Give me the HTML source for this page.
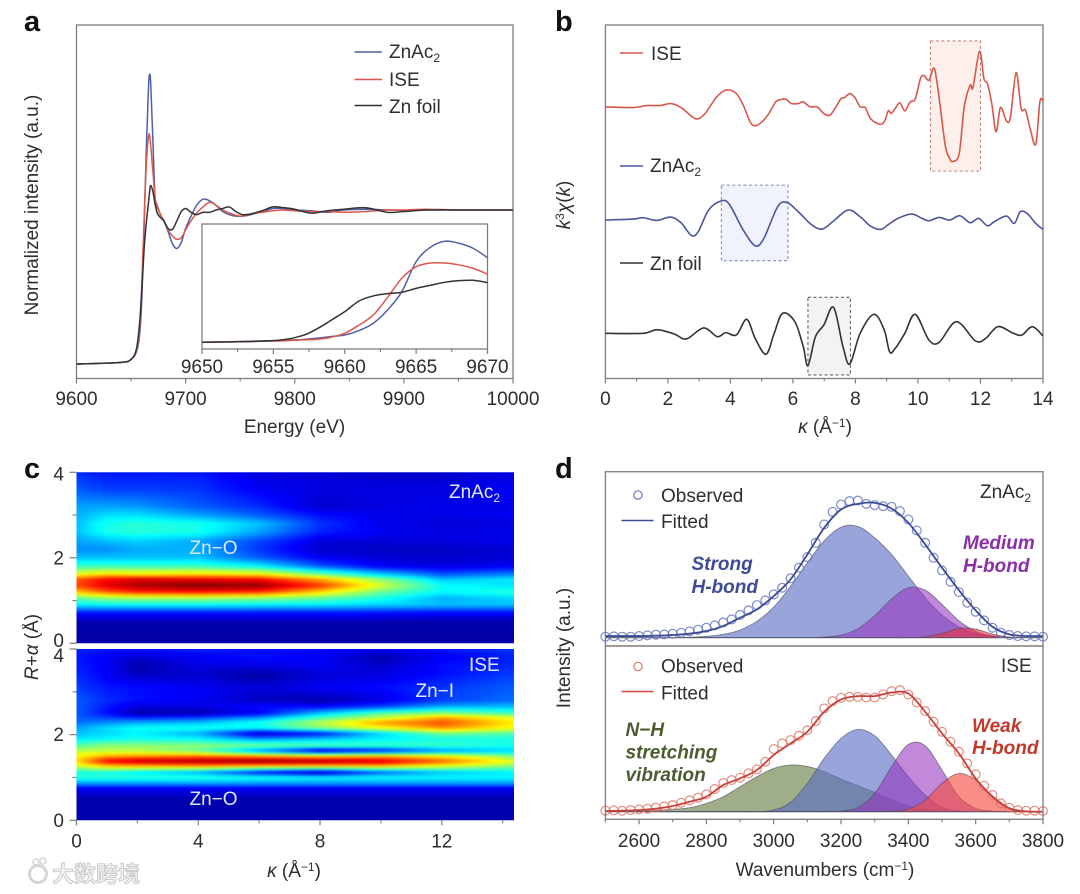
<!DOCTYPE html>
<html lang="en">
<head>
<meta charset="utf-8">
<title>XAS, EXAFS, wavelet and FTIR panels</title>
<style>
html,body{margin:0;padding:0;background:#fff;}
svg{display:block;filter:blur(0.35px);}
text{font-family:"Liberation Sans",sans-serif;fill:#2e2e2e;font-size:19px;}
.panel-letter{font-size:29px;font-weight:bold;fill:#111;}
.light{fill:#dfe7f6;}
.hb{font-weight:bold;font-style:italic;font-size:19px;}
</style>
</head>
<body>
<svg id="figure" xmlns="http://www.w3.org/2000/svg" width="1080" height="894" viewBox="0 0 1080 894">
  <defs>
    <clipPath id="clip-c-top"><rect x="76.5" y="472.3" width="437.5" height="171"/></clipPath>
    <clipPath id="clip-c-bottom"><rect x="76.5" y="649" width="437.5" height="171.3"/></clipPath>
  </defs>

  <g id="panel-a"></g>
  <g id="panel-b"></g>
  <g clip-path="url(#clip-c-top)"><g id="heat-top" style="filter:blur(1px)"></g></g>
  <g clip-path="url(#clip-c-bottom)"><g id="heat-bottom" style="filter:blur(1px)"></g></g>
  <g id="panel-c"></g>
  <g id="panel-d"></g>

  <!-- panel letters -->
  <text class="panel-letter" x="24" y="31">a</text>
  <text class="panel-letter" x="555" y="31">b</text>
  <text class="panel-letter" x="24" y="478">c</text>
  <text class="panel-letter" x="555" y="478">d</text>

  <!-- panel a text -->
  <text x="294.5" y="433" text-anchor="middle">Energy (eV)</text>
  <text transform="translate(38,205) rotate(-90)" text-anchor="middle">Normalized intensity (a.u.)</text>
  <g>
    <line x1="354.5" x2="382" y1="52" y2="52" stroke="#4f5fa8" stroke-width="1.5"/>
    <text x="389" y="58">ZnAc<tspan dy="4" font-size="12">2</tspan></text>
    <line x1="354.5" x2="382" y1="79.5" y2="79.5" stroke="#e0564a" stroke-width="1.5"/>
    <text x="389" y="86">ISE</text>
    <line x1="354.5" x2="382" y1="105.5" y2="105.5" stroke="#333" stroke-width="1.5"/>
    <text x="389" y="113">Zn foil</text>
  </g>

  <!-- panel b text -->
  <text x="825" y="433" text-anchor="middle"><tspan font-style="italic">κ</tspan> (Å<tspan dy="-6" font-size="12">−1</tspan><tspan dy="6">)</tspan></text>
  <text transform="translate(570,205) rotate(-90)" text-anchor="middle"><tspan font-style="italic">k</tspan><tspan dy="-6" font-size="12">3</tspan><tspan dy="6" font-style="italic">χ</tspan>(<tspan font-style="italic">k</tspan>)</text>
  <g>
    <line x1="620" x2="643" y1="53" y2="53" stroke="#d9574a" stroke-width="1.5"/>
    <text x="651" y="60">ISE</text>
    <line x1="620" x2="643" y1="166" y2="166" stroke="#4a55a0" stroke-width="1.5"/>
    <text x="650" y="172">ZnAc<tspan dy="4" font-size="12">2</tspan></text>
    <line x1="620" x2="643" y1="263" y2="263" stroke="#333" stroke-width="1.5"/>
    <text x="650" y="270">Zn foil</text>
  </g>

  <!-- panel c text -->
  <text x="294" y="877" text-anchor="middle"><tspan font-style="italic">κ</tspan> (Å<tspan dy="-6" font-size="12">−1</tspan><tspan dy="6">)</tspan></text>
  <text transform="translate(38,647) rotate(-90)" text-anchor="middle"><tspan font-style="italic">R</tspan>+<tspan font-style="italic">α</tspan> (Å)</text>
  <text class="light" x="449" y="498">ZnAc<tspan dy="4" font-size="12">2</tspan></text>
  <text class="light" x="189.5" y="554">Zn−O</text>
  <text class="light" x="469" y="671">ISE</text>
  <text class="light" x="415.5" y="697">Zn−I</text>
  <text class="light" x="189.5" y="805">Zn−O</text>

  <!-- panel d text -->
  <text x="825" y="876" text-anchor="middle">Wavenumbers (cm<tspan dy="-6" font-size="12">−1</tspan><tspan dy="6">)</tspan></text>
  <text transform="translate(570,648) rotate(-90)" text-anchor="middle">Intensity (a.u.)</text>
  <text x="980" y="498">ZnAc<tspan dy="4" font-size="12">2</tspan></text>
  <text x="1001" y="672">ISE</text>
  <g>
    <circle cx="638" cy="495" r="4.2" fill="none" stroke="#6675c2" stroke-width="1.2"/>
    <text x="661" y="502">Observed</text>
    <line x1="621.5" x2="653.5" y1="520.5" y2="520.5" stroke="#3c4a96" stroke-width="1.6"/>
    <text x="661" y="528">Fitted</text>
  </g>
  <g>
    <circle cx="638" cy="666.5" r="4.2" fill="none" stroke="#dd7868" stroke-width="1.2"/>
    <text x="661" y="672.5">Observed</text>
    <line x1="621.5" x2="653.5" y1="691.5" y2="691.5" stroke="#d04a40" stroke-width="1.6"/>
    <text x="661" y="699.5">Fitted</text>
  </g>
  <g fill="#3d4a96">
    <text class="hb" style="fill:#3d4a96" x="691.5" y="570">Strong</text>
    <text class="hb" style="fill:#3d4a96" x="691.5" y="593">H-bond</text>
  </g>
  <g>
    <text class="hb" style="fill:#8a2fa8" x="963" y="549">Medium</text>
    <text class="hb" style="fill:#8a2fa8" x="963" y="572">H-bond</text>
  </g>
  <g>
    <text class="hb" style="fill:#4a5d30" x="625.5" y="736">N−H</text>
    <text class="hb" style="fill:#4a5d30" x="625.5" y="758.5">stretching</text>
    <text class="hb" style="fill:#4a5d30" x="625.5" y="781">vibration</text>
  </g>
  <g>
    <text class="hb" style="fill:#c0392b" x="972" y="732">Weak</text>
    <text class="hb" style="fill:#c0392b" x="972" y="754">H-bond</text>
  </g>

  <!-- watermark -->
  <g>
    <circle cx="38" cy="874" r="8.5" fill="none" stroke="#d6d6d6" stroke-width="3"/>
    <circle cx="36" cy="862" r="3" fill="none" stroke="#d6d6d6" stroke-width="1.5"/>
    <circle cx="43" cy="861" r="3" fill="none" stroke="#d6d6d6" stroke-width="1.5"/>
    <text x="52" y="882" style="font-family:'Liberation Sans','Noto Sans CJK SC',sans-serif;font-size:22px;font-weight:bold;fill:#f2f2f2;stroke:#c4c4c4;stroke-width:0.8px;">大数跨境</text>
  </g>
</svg>

<script>
/* ---------- panel a data ---------- */
const aEnergy = [9600,9640,9650,9655,9658,9660,9662,9664,9666,9667,9668,9670,9672,9674,9677,9680,9684,9688,9692,9696,9700,9705,9710,9716,9722,9728,9734,9740,9746,9752,9760,9770,9780,9790,9800,9815,9830,9845,9865,9885,9900,9920,9950,10000];
const aZnAc2 = [0,.01,.03,.08,.2,.45,.9,1.4,1.8,1.88,1.82,1.45,1.08,1.02,.97,.93,.86,.78,.75,.79,.88,.96,1.03,1.07,1.06,1.03,.99,.97,.96,.96,.97,.99,1.01,1.01,1.0,.995,.985,1.0,1.005,1.0,.998,1.0,1.0,1.0];
const aISE = [0,.01,.03,.09,.25,.55,.95,1.3,1.48,1.48,1.42,1.25,1.08,1.03,.97,.93,.87,.83,.81,.82,.87,.93,.98,1.02,1.05,1.03,1.0,.98,.965,.96,.975,.985,.995,1.0,.995,.99,.99,.985,.99,1.0,1.0,1.005,1.0,1.0];
const aZnFoil = [0,.01,.03,.1,.28,.5,.75,.92,1.05,1.12,1.16,1.12,1.04,.98,.95,.93,.88,.875,.93,.99,1.01,.985,.97,.985,.985,1.0,1.01,1.02,.99,.97,.975,.995,1.02,1.015,1.005,.98,.995,1.005,1.015,.985,.99,1.0,1.0,1.0];
const aTickLabels = [9600,9700,9800,9900,10000];
const aMinorTicks = [9650,9750,9850,9950];

const insetEnergy = [9650,9655,9657,9658,9659,9660,9661,9662,9663,9664,9665,9666,9667,9668,9669,9670];
const insetZnAc2 = [0,.014,.023,.034,.048,.062,.099,.161,.273,.428,.682,.803,.854,.837,.794,.715];
const insetISE = [0,.011,.02,.025,.042,.076,.146,.231,.38,.541,.639,.67,.67,.654,.625,.577];
const insetZnFoil = [0,.014,.056,.11,.183,.259,.349,.392,.411,.423,.456,.482,.507,.521,.524,.504];
const insetTickLabels = [9650,9655,9660,9665,9670];
const insetMinorTicks = [9652.5,9657.5,9662.5,9667.5];

/* ---------- panel b data ---------- */
const bIseK = [0,.88,1.32,1.76,2.09,2.42,2.75,2.95,3.19,3.52,3.74,3.93,4.19,4.41,4.63,4.79,5.01,5.23,5.45,5.62,5.78,5.95,6.17,6.33,6.55,6.77,6.99,7.18,7.38,7.54,7.65,7.82,7.98,8.15,8.31,8.48,8.76,8.92,9.05,9.14,9.25,9.42,9.58,9.75,9.91,10.08,10.19,10.35,10.5,10.59,10.74,10.88,11.01,11.12,11.32,11.48,11.67,11.76,11.97,12.11,12.22,12.36,12.5,12.64,12.83,12.96,13.14,13.3,13.44,13.6,13.77,13.9,14];
const bIseChi = [0,-.02,.04,.04,.10,-.02,-.28,-.36,-.20,.25,.45,.51,.40,.05,-.45,-.57,-.45,-.20,.15,.22,.23,.10,.10,.15,0,0,-.20,-.25,0,.25,.28,.40,.28,0,-.02,-.35,-.52,-.45,-.12,-.20,-.08,.12,-.12,.15,.23,.85,.94,.80,1.17,.85,-.20,-1.20,-1.55,-1.64,-1.40,0,.65,.58,1.67,.85,.70,.10,-.75,-.02,-.42,-.30,1.03,-.05,-.10,-.70,-1.12,.15,.18];
const bZnAc2K = [0,.88,1.21,1.65,2.09,2.42,2.75,2.97,3.30,3.69,3.96,4.41,4.79,5.07,5.51,5.81,6.17,6.61,6.94,7.27,7.76,8.15,8.48,8.81,9.03,9.36,9.80,10.13,10.35,10.68,11.01,11.34,11.67,11.94,12.22,12.44,12.83,13.08,13.27,13.49,13.77,14];
const bZnAc2Chi = [0,.03,.07,-.01,.09,-.08,-.46,-.35,.30,.57,.48,-.30,-.77,-.55,.40,.53,.25,-.15,-.27,-.05,.30,.10,-.18,-.28,-.15,.05,.18,.05,-.02,.08,0,.13,-.08,.05,-.17,-.05,.12,-.10,.25,.20,-.10,-.28];
const bZnFoilK = [0,1.21,1.65,2.20,2.59,3.14,3.58,3.85,4.19,4.52,4.79,5.14,5.40,5.67,6.06,6.33,6.48,6.72,6.99,7.30,7.60,7.82,8.15,8.59,8.92,9.09,9.25,9.58,9.91,10.35,10.68,11.23,11.84,12.17,12.56,13.05,13.33,13.66,14];
const bZnFoilChi = [0,0,.11,-.02,-.17,.16,-.10,.02,-.05,.42,-.15,-.63,0,.60,.35,-.40,-.97,-.10,.25,.78,-.40,-.92,0,.57,.10,-.55,-.48,0,.57,-.20,-.27,.35,-.23,-.15,.20,0,-.05,.20,-.08];
const bSeriesOffset = [6.8,3.4,0];
const bHighlightISE = [10.4,12,1.98,-1.93];
const bHighlightZnAc2 = [3.71,5.84,1.05,-1.22];
const bHighlightZnFoil = [6.48,7.84,1.08,-1.25];
const bTickLabels = [0,2,4,6,8,10,12,14];
const bMinorTicks = [1,3,5,7,9,11,13];

/* ---------- panel c data (intensity 0–1, rows by R, columns by kappa) ---------- */
const heatKappa = [0,1,2,4,6,8,10,12,14.4];
const heatTopR = [4,3.6,3.2,3,2.8,2.6,2.4,2.2,2,1.8,1.6,1.5,1.35,1.2,1.05,.9,.72,.5,.2,0];
const heatTop = [
 [.15,.13,.13,.13,.08,.07,.06,.06,.08],
 [.2,.17,.17,.16,.1,.08,.08,.08,.1],
 [.27,.27,.26,.2,.15,.06,.08,.09,.09],
 [.28,.33,.33,.27,.2,.12,.09,.09,.1],
 [.3,.38,.40,.38,.3,.16,.09,.07,.08],
 [.3,.38,.40,.38,.27,.14,.1,.08,.09],
 [.27,.30,.32,.28,.18,.08,.07,.08,.09],
 [.25,.25,.28,.28,.16,.06,.05,.05,.07],
 [.3,.30,.30,.30,.2,.1,.07,.06,.07],
 [.42,.42,.42,.42,.36,.2,.1,.08,.1],
 [.62,.68,.66,.68,.66,.5,.33,.2,.25],
 [.78,.86,.9,.88,.86,.7,.5,.3,.34],
 [.80,.9,.96,1,.98,.82,.58,.37,.33],
 [.68,.78,.83,.85,.82,.66,.47,.36,.40],
 [.45,.5,.52,.52,.5,.46,.38,.28,.32],
 [.35,.36,.36,.36,.35,.34,.32,.3,.3],
 [.13,.13,.13,.13,.13,.13,.13,.12,.12],
 [.03,.03,.03,.03,.03,.03,.03,.03,.03],
 [.02,.02,.02,.02,.02,.02,.02,.02,.02],
 [.03,.03,.03,.03,.03,.03,.03,.03,.03]
];
const heatBottomR = [4,3.8,3.6,3.4,3.1,2.8,2.65,2.5,2.4,2.28,2.15,2.03,1.9,1.75,1.62,1.5,1.38,1.28,1.12,1,.85,.75,.5,0];
const heatBottom = [
 [.14,.13,.13,.14,.12,.12,.1,.13,.16],
 [.13,.1,.06,.1,.12,.1,.03,.1,.14],
 [.14,.1,.03,.08,.08,.1,.06,.12,.15],
 [.15,.1,.05,.06,.02,.07,.08,.12,.17],
 [.17,.13,.12,.1,.07,.1,.12,.16,.2],
 [.2,.15,.12,.1,.05,.03,.08,.17,.22],
 [.2,.13,.07,.08,.12,.12,.18,.28,.3],
 [.2,.12,.03,.03,.1,.3,.45,.5,.42],
 [.2,.17,.14,.17,.25,.42,.55,.7,.58],
 [.22,.25,.28,.3,.38,.55,.72,.8,.64],
 [.27,.33,.37,.38,.35,.48,.6,.72,.6],
 [.3,.32,.35,.28,.05,.12,.32,.48,.45],
 [.34,.36,.38,.36,.25,.3,.35,.38,.38],
 [.45,.5,.5,.5,.48,.45,.42,.42,.38],
 [.55,.55,.55,.47,.25,.05,.12,.25,.32],
 [.62,.7,.72,.75,.7,.65,.68,.62,.48],
 [.66,.88,.94,.97,1,.97,.92,.78,.6],
 [.58,.7,.72,.75,.72,.72,.72,.62,.5],
 [.38,.38,.35,.28,.12,.04,.2,.3,.35],
 [.4,.4,.4,.4,.38,.35,.36,.36,.36],
 [.25,.25,.25,.25,.25,.25,.25,.25,.25],
 [.1,.1,.1,.1,.1,.1,.1,.1,.1],
 [.03,.03,.03,.03,.03,.03,.03,.03,.03],
 [.03,.03,.03,.03,.03,.03,.03,.03,.03]
];
const cTickLabelsX = [0,4,8,12];
const cMinorTicksX = [2,6,10,14];
const cTickLabelsY = [0,2,4];
const cMinorTicksY = [1,3];

/* ---------- panel d data ---------- */
const dWave = [2500,2550,2600,2650,2700,2750,2800,2850,2900,2950,3000,3050,3100,3150,3200,3250,3300,3350,3400,3450,3500,3550,3600,3650,3700,3750,3800];
const dTopStrong = [0,0,0,0,0,.01,.04,.1,.23,.49,.92,1.54,2.25,2.91,3.32,3.34,3.0,2.5,1.85,1.2,.68,.33,.13,.05,.01,0,0];
const dTopMedium = [0,0,0,0,0,0,0,0,0,0,0,0,0,.02,.08,.27,.66,1.16,1.5,1.43,1.0,.51,.19,.05,.01,0,0];
const dTopWeak = [0,0,0,0,0,0,0,0,0,0,0,0,0,0,0,0,0,0,0,.03,.13,.28,.26,.11,.02,0,0];
const dTopFitted = [.05,.05,.05,.06,.08,.12,.2,.35,.6,.85,1.25,1.75,2.5,3.3,3.85,4.02,4.05,3.88,3.45,2.8,2.1,1.43,.82,.33,.1,.05,.05];
const dBottomNH = [0,.01,.02,.04,.07,.12,.25,.45,.75,1.05,1.3,1.4,1.36,1.2,.98,.78,.58,.36,.17,.06,.02,0,0,0,0,0,0];
const dBottomStrong = [0,0,0,0,0,0,0,0,0,0,.05,.28,.85,1.6,2.2,2.47,2.28,1.7,1.05,.5,.13,.02,0,0,0,0,0];
const dBottomMedium = [0,0,0,0,0,0,0,0,0,0,0,0,0,0,.02,.12,.55,1.35,2.02,1.98,1.25,.45,.1,.02,0,0,0];
const dBottomWeak = [0,0,0,0,0,0,0,0,0,0,0,0,0,0,0,0,0,.01,.08,.35,.85,1.15,.95,.48,.12,.02,0];
const dBottomFitted = [.02,.03,.05,.09,.17,.3,.45,.8,1.0,1.25,1.7,2.05,2.4,3.0,3.37,3.47,3.47,3.58,3.55,3.0,2.35,1.75,1.0,.45,.1,.01,0];
const dObsWave = [2500,2525,2550,2575,2600,2625,2650,2675,2700,2725,2750,2775,2800,2825,2850,2875,2900,2925,2950,2975,3000,3025,3050,3075,3100,3125,3150,3175,3200,3225,3250,3275,3300,3325,3350,3375,3400,3425,3450,3475,3500,3525,3550,3575,3600,3625,3650,3675,3700,3725,3750,3775,3800];
const dTopObserved = [.03,.04,.03,.03,.05,.07,.09,.1,.12,.15,.19,.24,.3,.37,.46,.55,.68,.82,.98,1.12,1.3,1.5,1.78,2.1,2.42,2.85,3.4,3.78,4.0,4.1,4.12,4.02,3.98,3.95,3.93,3.8,3.55,3.22,2.85,2.4,2.02,1.68,1.37,1.05,.78,.52,.3,.15,.08,.05,.04,.04,.03];
const dBottomObserved = [.03,.04,.03,.05,.07,.09,.12,.16,.2,.27,.34,.42,.52,.68,.86,.95,1.02,1.15,1.27,1.5,1.88,2.05,2.15,2.28,2.45,2.72,3.1,3.32,3.42,3.45,3.45,3.43,3.43,3.52,3.62,3.65,3.52,3.28,3.02,2.7,2.4,2.1,1.8,1.45,1.12,.78,.5,.25,.12,.05,.03,.03,.02];
const dTickLabels = [2600,2800,3000,3200,3400,3600,3800];
const dMinorTicks = [2500,2700,2900,3100,3300,3500,3700];

/* ---------- helpers ---------- */
const SVGNS = 'http://www.w3.org/2000/svg';
function make(tag, attrs, parent){
  const n = document.createElementNS(SVGNS, tag);
  for (const k in attrs) n.setAttribute(k, attrs[k]);
  parent.appendChild(n);
  return n;
}
function linear(d0,d1,r0,r1){ return v => r0 + (v-d0)/(d1-d0)*(r1-r0); }
function smoothPath(xs, ys, X, Y){
  const p = xs.map((x,i)=>[X(x),Y(ys[i])]);
  let d = 'M'+p[0][0].toFixed(2)+','+p[0][1].toFixed(2);
  for (let i=0;i<p.length-1;i++){
    const a=p[Math.max(i-1,0)], b=p[i], c=p[i+1], e=p[Math.min(i+2,p.length-1)];
    const t=6;
    d+='C'+(b[0]+(c[0]-a[0])/t).toFixed(2)+','+(b[1]+(c[1]-a[1])/t).toFixed(2)+' '+(c[0]-(e[0]-b[0])/t).toFixed(2)+','+(c[1]-(e[1]-b[1])/t).toFixed(2)+' '+c[0].toFixed(2)+','+c[1].toFixed(2);
  }
  return d;
}
function drawFrame(parent, x0, x1, y0, y1, name){
  const r = make('rect',{x:x0,y:y0,width:x1-x0,height:y1-y0,fill:'none',stroke:'#7d7d7d','stroke-width':1.3},parent);
  
  
}
function drawXTicks(parent, scale, labels, minors, axisY, labelY, prefix){
  labels.forEach(v=>{
    const t = make('line',{x1:scale(v),x2:scale(v),y1:axisY,y2:axisY+5,stroke:'#7d7d7d','stroke-width':1.2},parent);
    
    
    const l = make('text',{x:scale(v),y:labelY,'text-anchor':'middle'},parent);
    l.textContent = v;
    
    
  });
  minors.forEach(v=>{
    const t = make('line',{x1:scale(v),x2:scale(v),y1:axisY,y2:axisY+3,stroke:'#7d7d7d','stroke-width':1.1},parent);
    
    
  });
}
function drawCurve(parent, xs, ys, X, Y, color, width, name){
  const c = make('path',{d:smoothPath(xs,ys,X,Y),fill:'none',stroke:color,'stroke-width':width,'stroke-linejoin':'round'},parent);
  
  
}

/* ---------- panel a ---------- */
const gA = document.getElementById('panel-a');
const xA = linear(9600,10000,76.5,513);
const yA = linear(0,1,364,210);
drawFrame(gA,76.5,513,25,378.5,'a-plot-frame');
drawXTicks(gA,xA,aTickLabels,aMinorTicks,378.5,405,'a-x-axis');
drawCurve(gA,aEnergy,aZnAc2,xA,yA,'#4f5fa8',1.5,'a-series-znac2');
drawCurve(gA,aEnergy,aISE,xA,yA,'#e0564a',1.5,'a-series-ise');
drawCurve(gA,aEnergy,aZnFoil,xA,yA,'#333333',1.5,'a-series-zn-foil');
const xI = linear(9650,9670,202,487.5);
const yI = linear(0,1,342.3,224);
drawFrame(gA,202,487.5,224,349,'a-inset-frame');
drawXTicks(gA,xI,insetTickLabels,insetMinorTicks,349,373,'a-inset-x-axis');
drawCurve(gA,insetEnergy,insetZnAc2,xI,yI,'#4f5fa8',1.5,'a-inset-series-znac2');
drawCurve(gA,insetEnergy,insetISE,xI,yI,'#e0564a',1.5,'a-inset-series-ise');
drawCurve(gA,insetEnergy,insetZnFoil,xI,yI,'#333333',1.5,'a-inset-series-zn-foil');

/* ---------- panel b ---------- */
const gB = document.getElementById('panel-b');
const xB = linear(0,14,605.4,1043);
const yB = linear(0,1,333.3,300);
function drawHighlight(parent, box, offset, fill, stroke, name){
  const r = make('rect',{x:xB(box[0]),y:yB(box[2]+offset),width:xB(box[1])-xB(box[0]),height:yB(box[3]+offset)-yB(box[2]+offset),fill:fill,stroke:stroke,'stroke-width':1.1,'stroke-dasharray':'3 2.5'},parent);
  
  
}
drawHighlight(gB,bHighlightISE,bSeriesOffset[0],'#fdf0ec','#c98080','b-highlight-ise');
drawHighlight(gB,bHighlightZnAc2,bSeriesOffset[1],'#f0f3fb','#7f8fc0','b-highlight-znac2');
drawHighlight(gB,bHighlightZnFoil,bSeriesOffset[2],'#f3f3f3','#666666','b-highlight-zn-foil');
drawFrame(gB,605.4,1043,25,378.5,'b-plot-frame');
drawXTicks(gB,xB,bTickLabels,bMinorTicks,378.5,405,'b-x-axis');
drawCurve(gB,bIseK,bIseChi.map(v=>v+bSeriesOffset[0]),xB,yB,'#d9574a',1.6,'b-series-ise');
drawCurve(gB,bZnAc2K,bZnAc2Chi.map(v=>v+bSeriesOffset[1]),xB,yB,'#4a55a0',1.6,'b-series-znac2');
drawCurve(gB,bZnFoilK,bZnFoilChi.map(v=>v+bSeriesOffset[2]),xB,yB,'#333333',1.6,'b-series-zn-foil');

/* ---------- panel c ---------- */
const gC = document.getElementById('panel-c');
function jetColor(v){
  const stops=[[0,0,0,143],[.11,0,0,255],[.36,0,255,255],[.62,255,255,0],[.87,255,0,0],[1,128,0,0]];
  v=Math.max(0,Math.min(1,v));
  for(let i=0;i<stops.length-1;i++){
    const a=stops[i],b=stops[i+1];
    if(v<=b[0]){
      const t=(v-a[0])/(b[0]-a[0]);
      return 'rgb('+Math.round(a[1]+t*(b[1]-a[1]))+','+Math.round(a[2]+t*(b[2]-a[2]))+','+Math.round(a[3]+t*(b[3]-a[3]))+')';
    }
  }
  return 'rgb(128,0,0)';
}
function segmentAsc(arr,v){
  let i=0;
  while(i<arr.length-2 && v>arr[i+1]) i++;
  return [i,Math.max(0,Math.min(1,(v-arr[i])/(arr[i+1]-arr[i])))];
}
function segmentDesc(arr,v){
  let i=0;
  while(i<arr.length-2 && v<arr[i+1]) i++;
  return [i,Math.max(0,Math.min(1,(arr[i]-v)/(arr[i]-arr[i+1])))];
}
function sampleHeat(matrix,rows,k,r){
  const [ci,ct]=segmentAsc(heatKappa,k);
  const [ri,rt]=segmentDesc(rows,r);
  const a=matrix[ri][ci]*(1-ct)+matrix[ri][ci+1]*ct;
  const b=matrix[ri+1][ci]*(1-ct)+matrix[ri+1][ci+1]*ct;
  return a*(1-rt)+b*rt;
}
function drawHeat(group,matrix,rows,X,Y,x0,x1,y0,y1,name){
  const stepX=4, stepY=2;
  for(let py=y0-2;py<y1+2;py+=stepY){
    for(let px=x0-4;px<x1+4;px+=stepX){
      const cell=make('rect',{x:px,y:py,width:stepX+.5,height:stepY+.5,fill:jetColor(sampleHeat(matrix,rows,X(px+stepX/2),Y(py+stepY/2)))},group);
      
      
    }
  }
}
const xC = linear(0,12,76.5,441.8);
const kOfPx = linear(76.5,441.8,0,12);
const yCTop = linear(0,4,643.3,472.3);
const rOfPxTop = linear(643.3,472.3,0,4);
const yCBot = linear(0,4,820.3,649);
const rOfPxBot = linear(820.3,649,0,4);
drawHeat(document.getElementById('heat-top'),heatTop,heatTopR,kOfPx,rOfPxTop,76.5,514,472.3,643.3,'heat-cell-znac2');
drawHeat(document.getElementById('heat-bottom'),heatBottom,heatBottomR,kOfPx,rOfPxBot,76.5,514,649,820.3,'heat-cell-ise');
drawXTicks(gC,xC,cTickLabelsX,cMinorTicksX,820.3,847.5,'c-x-axis');
function drawYTicks(parent,scale,labelOffsets,prefix){
  cTickLabelsY.forEach((v,i)=>{
    const t=make('line',{x1:69.5,x2:76.5,y1:scale(v),y2:scale(v),stroke:'#7d7d7d','stroke-width':1.2},parent);
    
    
    const l=make('text',{x:64,y:scale(v)+labelOffsets[i],'text-anchor':'end'},parent);
    l.textContent=v;
    
    
  });
  cMinorTicksY.forEach(v=>{
    const t=make('line',{x1:72.5,x2:76.5,y1:scale(v),y2:scale(v),stroke:'#7d7d7d','stroke-width':1.1},parent);
    
    
  });
}
drawYTicks(gC,yCTop,[3.5,6.5,8],'c-top-y-axis');
drawYTicks(gC,yCBot,[6.5,6.5,13],'c-bottom-y-axis');

/* ---------- panel d ---------- */
const gD = document.getElementById('panel-d');
const xD = linear(2500,3800,605.4,1043);
const yDTop = linear(0,1,637.7,604.4);
const yDBot = linear(0,1,811.7,778.4);
function drawArea(parent,xs,ys,Y,fill,name){
  const base=Y(0);
  const d=smoothPath(xs,ys,xD,Y)+'L'+xD(xs[xs.length-1]).toFixed(2)+','+base+'L'+xD(xs[0]).toFixed(2)+','+base+'Z';
  const a=make('path',{d:d,fill:fill,stroke:'#4a4f66','stroke-opacity':.65,'stroke-width':.9},parent);
  
  
}
function drawObserved(parent,ys,Y,color,name){
  dObsWave.forEach((w,i)=>{
    const c=make('circle',{cx:xD(w),cy:Y(ys[i]),r:4.4,fill:'none',stroke:color,'stroke-width':1.2,'stroke-opacity':.85},parent);
    
    
  });
}
drawArea(gD,dWave,dTopStrong,yDTop,'rgba(90,108,195,.62)','d-top-area-strong');
drawArea(gD,dWave,dTopMedium,yDTop,'rgba(150,50,190,.58)','d-top-area-medium');
drawArea(gD,dWave,dTopWeak,yDTop,'rgba(235,50,60,.6)','d-top-area-weak');
drawObserved(gD,dTopObserved,yDTop,'#6675c2','d-top-observed-point');
drawCurve(gD,dWave,dTopFitted,xD,yDTop,'#3c4a96',1.8,'d-top-fitted-line');
drawArea(gD,dWave,dBottomNH,yDBot,'rgba(100,125,65,.62)','d-bottom-area-nh');
drawArea(gD,dWave,dBottomStrong,yDBot,'rgba(90,108,195,.62)','d-bottom-area-strong');
drawArea(gD,dWave,dBottomMedium,yDBot,'rgba(150,50,190,.58)','d-bottom-area-medium');
drawArea(gD,dWave,dBottomWeak,yDBot,'rgba(245,75,60,.62)','d-bottom-area-weak');
drawObserved(gD,dBottomObserved,yDBot,'#dd7868','d-bottom-observed-point');
drawCurve(gD,dWave,dBottomFitted,xD,yDBot,'#cc3f38',1.8,'d-bottom-fitted-line');
drawFrame(gD,605.4,1043,471.7,646,'d-top-plot-frame');
drawFrame(gD,605.4,1043,646,819.3,'d-bottom-plot-frame');
drawXTicks(gD,xD,dTickLabels,dMinorTicks,819.3,847,'d-x-axis');
</script>
</body>
</html>
